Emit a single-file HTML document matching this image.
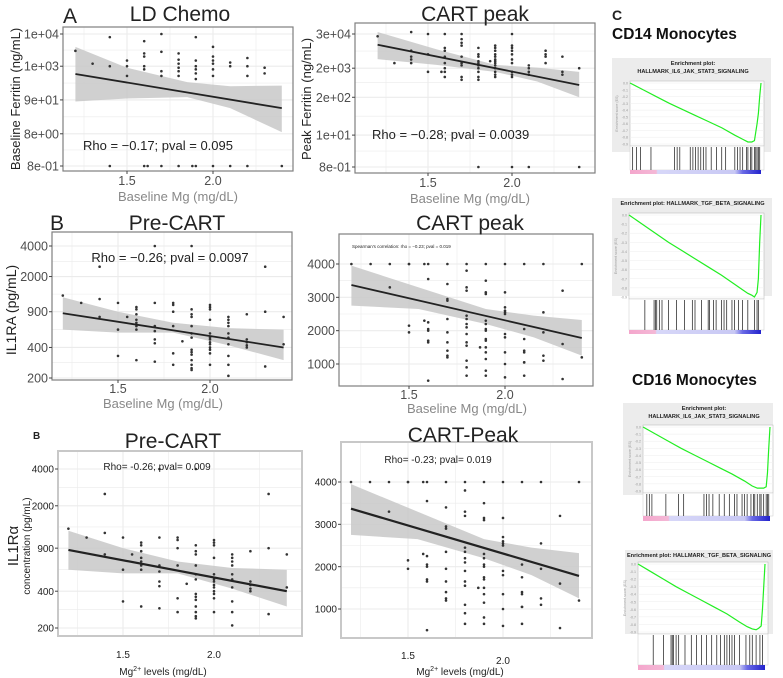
<!DOCTYPE html>
<html><head><meta charset="utf-8"><style>
html,body{margin:0;padding:0;background:#fff;}
svg{display:block;font-family:"Liberation Sans",Arial,sans-serif;}
</style></head><body>
<svg id="fig" width="783" height="678" viewBox="0 0 783 678" xmlns="http://www.w3.org/2000/svg"></svg>
<script>
// ---------- DATA ----------
const ldMg = [1.2,1.3,1.4,1.4,1.5,1.5,1.5,1.6,1.6,1.6,1.6,1.6,1.7,1.7,1.7,1.7,1.8,1.8,1.8,1.8,1.8,1.8,1.9,1.9,1.9,1.9,1.9,1.9,2.0,2.0,2.0,2.0,2.0,2.0,2.1,2.1,2.2,2.2,2.2,2.3,2.3,1.4,1.6,1.62,1.7,1.8,1.88,1.9,2.0,2.1,2.2,2.4];
const ldFerritin = [3000,1200,8000,1000,1500,1000,500,6000,2500,2000,1000,800,10000,2800,700,500,2500,1600,1200,900,700,500,8000,1500,1000,800,600,400,4000,2000,1500,1200,800,500,1300,1000,1800,1000,500,900,600,0.8,0.8,0.8,0.8,0.8,0.8,0.8,0.8,0.8,0.8,0.8];
const ldFitY = [575,50];
const ldBandX = [1.2,1.5,1.85,2.1,2.4];
const ldBandHi = [4000,900,320,240,250];
const ldBandLo = [80,100,110,50,9];

const pkMg = [1.2,1.3,1.4,1.4,1.4,1.4,1.4,1.5,1.5,1.5,1.58,1.6,1.6,1.6,1.6,1.6,1.6,1.6,1.6,1.7,1.7,1.7,1.7,1.7,1.7,1.7,1.7,1.7,1.8,1.8,1.8,1.8,1.8,1.8,1.8,1.8,1.8,1.8,1.8,1.87,1.9,1.9,1.9,1.9,1.9,1.9,1.9,1.9,1.9,1.9,1.9,1.9,1.9,2.0,2.0,2.0,2.0,2.0,2.0,2.0,2.0,2.0,2.0,2.0,2.1,2.1,2.1,2.1,2.1,2.2,2.2,2.2,2.2,2.3,2.3,2.3,2.4,2.4];
const pkFerritin = [25000,3000,35000,8000,5000,4000,3000,30000,6000,1500,1500,30000,10000,8000,5000,3000,2000,1500,1000,30000,20000,15000,12000,5000,3000,2500,1000,800,10000,6000,5000,3500,3000,2500,2000,1500,1000,800,0.8,3500,12000,10000,8000,6000,5000,4000,3500,3000,2500,2000,1500,1200,1000,30000,12000,10000,8000,6000,4000,3000,1500,1200,1000,0.8,2500,2000,1500,1200,0.8,8000,6000,5000,3000,5000,1500,1200,2000,0.8];
const pkFitY = [12800,530];
const pkBandX = [1.2,1.55,1.9,2.15,2.4];
const pkBandHi = [35000,9000,2600,2100,1500];
const pkBandLo = [4100,2600,1500,700,200];

const preMg = [1.2,1.3,1.4,1.4,1.4,1.5,1.5,1.5,1.55,1.6,1.6,1.6,1.6,1.6,1.6,1.6,1.6,1.7,1.7,1.7,1.7,1.7,1.7,1.7,1.8,1.8,1.8,1.8,1.8,1.8,1.85,1.9,1.9,1.9,1.9,1.9,1.9,1.9,1.9,1.9,1.9,1.9,1.9,1.9,1.9,2.0,2.0,2.0,2.0,2.0,2.0,2.0,2.0,2.0,2.0,2.0,2.0,2.0,2.1,2.1,2.1,2.1,2.1,2.1,2.1,2.1,2.1,2.1,2.2,2.2,2.2,2.2,2.2,2.3,2.3,2.3,2.4,2.4];
const preIL1RA = [1300,1100,2500,1200,800,1100,600,330,800,1000,950,850,750,700,650,600,300,4000,1100,650,580,480,440,290,1100,1050,900,650,350,270,460,4000,950,850,800,650,550,500,380,360,340,300,270,250,240,1050,1000,950,750,550,500,480,450,430,400,380,350,270,800,750,700,650,550,500,430,330,270,210,850,480,450,420,400,2500,900,260,800,430];
const preFitY = [870,400];
const preBandX = [1.2,1.5,1.8,2.1,2.4];
const preBandHi = [1250,900,700,620,600];
const preBandLo = [600,560,560,420,300];

const cpMg = [1.2,1.3,1.4,1.4,1.5,1.5,1.5,1.5,1.58,1.58,1.6,1.6,1.6,1.6,1.6,1.6,1.6,1.6,1.7,1.7,1.7,1.7,1.7,1.7,1.7,1.7,1.7,1.7,1.8,1.8,1.8,1.8,1.8,1.8,1.8,1.8,1.8,1.8,1.8,1.8,1.8,1.8,1.87,1.9,1.9,1.9,1.9,1.9,1.9,1.9,1.9,1.9,1.9,1.9,1.9,1.9,1.9,1.9,2.0,2.0,2.0,2.0,2.0,2.0,2.0,2.0,2.0,2.0,2.0,2.1,2.1,2.1,2.1,2.1,2.1,2.1,2.1,2.2,2.2,2.2,2.2,2.2,2.3,2.3,2.3,2.4,2.4];
const cpIL1RA = [4000,4000,4000,3300,4000,4000,2150,1950,4000,2300,4000,3550,2250,2050,2000,1700,1650,500,4000,3400,2950,2900,2350,1950,1650,1400,1250,1200,4000,3800,3300,3200,2450,2350,2200,2100,1900,1650,1550,1100,900,650,1500,4000,3500,3150,3100,2300,2200,2050,2000,1750,1700,1500,1350,1150,800,650,4000,3150,2700,2600,2550,2500,1900,1800,1350,1000,600,4000,2050,1750,1400,1350,1050,1050,650,4000,2550,1950,1250,1100,3200,1600,550,4000,1200];
const cpFitY = [3370,1780];
const cpBandX = [1.2,1.55,1.9,2.15,2.4];
const cpBandHi = [3950,3300,2650,2450,2320];
const cpBandLo = [2750,2650,2200,1800,1250];

const fitX = [1.2,2.4];
const xTickVals = [1.5,2.0];
const xTickLabels = ["1.5","2.0"];
const ferrLdTicks = [10000,1000,90,8,0.8];
const ferrLdLabels = ["1e+04","1e+03","9e+01","8e+00","8e-01"];
const ferrPkTicks = [30000,2000,200,10,0.8];
const ferrPkLabels = ["3e+04","2e+03","2e+02","1e+01","8e-01"];
const preTicks = [4000,2000,900,400,200];
const preLabels = ["4000","2000","900","400","200"];
const cpTicks = [4000,3000,2000,1000];
const cpLabels = ["4000","3000","2000","1000"];

// GSEA running enrichment score (rank fraction, ES)
const esRank = [0,0.1,0.2,0.3,0.4,0.5,0.6,0.7,0.8,0.86,0.9,0.93,0.95,0.97,0.98,0.99,1.0];
const es1 = [0,-0.1,-0.2,-0.3,-0.39,-0.48,-0.57,-0.66,-0.77,-0.83,-0.87,-0.87,-0.85,-0.6,-0.45,-0.2,0];
const es2 = [0,-0.1,-0.2,-0.3,-0.39,-0.48,-0.57,-0.66,-0.76,-0.82,-0.86,-0.88,-0.9,-0.85,-0.7,-0.3,0];
const es3 = [0,-0.1,-0.2,-0.3,-0.39,-0.48,-0.57,-0.66,-0.76,-0.83,-0.86,-0.86,-0.86,-0.84,-0.65,-0.3,0];
const es4 = [0,-0.1,-0.2,-0.3,-0.39,-0.48,-0.57,-0.66,-0.77,-0.83,-0.86,-0.87,-0.85,-0.82,-0.6,-0.3,0];
const hits1 = [0.02,0.05,0.08,0.16,0.34,0.36,0.38,0.46,0.48,0.5,0.52,0.54,0.56,0.58,0.62,0.66,0.7,0.73,0.8,0.82,0.84,0.86,0.89,0.9,0.92,0.93,0.95,0.96,0.97,0.98,0.99];
const hits2 = [0.12,0.19,0.2,0.21,0.23,0.25,0.3,0.36,0.42,0.48,0.5,0.55,0.6,0.61,0.64,0.66,0.7,0.72,0.74,0.78,0.8,0.83,0.86,0.9,0.95,0.97,0.98];
const hits3 = [0.03,0.05,0.07,0.18,0.28,0.32,0.48,0.5,0.52,0.55,0.6,0.64,0.68,0.72,0.74,0.78,0.8,0.82,0.85,0.87,0.88,0.9,0.92,0.93,0.95,0.97,0.98,0.99];
const hits4 = [0.12,0.2,0.26,0.27,0.28,0.3,0.32,0.37,0.42,0.46,0.5,0.54,0.58,0.62,0.65,0.68,0.7,0.72,0.74,0.76,0.8,0.85,0.88,0.9,0.93,0.96,0.98];

// ---------- DRAWING ----------
const NS = "http://www.w3.org/2000/svg";
const svg = document.getElementById('fig');
function el(tag, attrs, parent, txt){
  const e = document.createElementNS(NS, tag);
  for (const k in attrs) e.setAttribute(k, attrs[k]);
  if (txt !== undefined) e.textContent = txt;
  (parent || svg).appendChild(e);
  return e;
}
function linX(x1v,x1p,x2v,x2p){ return v => x1p + (v-x1v)*(x2p-x1p)/(x2v-x1v); }
function logY(vt,yt,vb,yb){ return v => yt + (Math.log(vt)-Math.log(v))/(Math.log(vt)-Math.log(vb))*(yb-yt); }

function panel(name, cfg){
  const g = el('g', {});
  
  
  const [l,t,r,b] = cfg.frame;
  const sx = cfg.sx, sy = cfg.sy;
  el('rect',{x:l,y:t,width:r-l,height:b-t,fill:'#fff'},g);
  // grid
  const gridG = el('g',{stroke:cfg.grid||'#ebebeb','stroke-width':1},g);
  
  
  [1.25,1.5,1.75,2.0,2.25].forEach(v=>{
    const x=sx(v); el('line',{x1:x,x2:x,y1:t,y2:b,'stroke-width':(v==1.5||v==2.0)?1.1:0.6},gridG);
  });
  cfg.yTicks.forEach((v,i)=>{
    const y=sy(v); el('line',{x1:l,x2:r,y1:y,y2:y,'stroke-width':1.1},gridG);
    if(i<cfg.yTicks.length-1){ const y2=(y+sy(cfg.yTicks[i+1]))/2; el('line',{x1:l,x2:r,y1:y2,y2:y2,'stroke-width':0.6},gridG); }
  });
  // band
  let d='';
  cfg.bandX.forEach((v,i)=>{ d += (i?'L':'M')+sx(v)+','+sy(cfg.bandHi[i]); });
  for(let i=cfg.bandX.length-1;i>=0;i--){ d += 'L'+sx(cfg.bandX[i])+','+sy(cfg.bandLo[i]); }
  const band = el('path',{d:d+'Z',fill:'#c8c8c8','fill-opacity':0.85},g);
  
  
  // points
  const pg = el('g',{fill:'#333'},g);
  
  
  cfg.xs.forEach((v,i)=>{
    const c = el('circle',{cx:sx(v),cy:sy(cfg.ys[i]),r:1.3},pg);
    
    
  });
  // fit
  const fl = el('line',{x1:sx(fitX[0]),y1:sy(cfg.fitY[0]),x2:sx(fitX[1]),y2:sy(cfg.fitY[1]),stroke:'#222','stroke-width':cfg.fitW||1.8},g);
  
  
  // frame
  el('rect',{x:l,y:t,width:r-l,height:b-t,fill:'none',stroke:cfg.frameColor||'#7f7f7f','stroke-width':cfg.frameW||1.2},g);
  // y ticks
  cfg.yTicks.forEach((v,i)=>{
    const y=sy(v);
    el('line',{x1:l-3,x2:l,y1:y,y2:y,stroke:'#444','stroke-width':1},g);
    const tx = el('text',{x:l-4,y:y+cfg.fs*0.36,'text-anchor':'end','font-size':cfg.fs,fill:cfg.tickColor||'#4d4d4d'},g,cfg.yLabels[i]);
    
    
  });
  xTickVals.forEach((v,i)=>{
    const x=sx(v);
    if(!cfg.noXTick) el('line',{x1:x,x2:x,y1:b,y2:b+3,stroke:'#444','stroke-width':1},g);
    const yy = cfg.xLabY[i] !== undefined ? cfg.xLabY[i] : cfg.xLabY;
    const tx = el('text',{x:x,y:yy,'text-anchor':'middle','font-size':cfg.fs,fill:cfg.tickColor||'#4d4d4d'},g,xTickLabels[i]);
    
    
  });
  return g;
}
function text(name,x,y,size,str,opts){
  const a = Object.assign({x:x,y:y,'font-size':size,fill:'#222'},opts||{});
  const t = el('text',a,svg,str);
  
  
  return t;
}

// Panel A1
panel('ld-chemo-panel',{frame:[63,27,293,171],sx:linX(1.5,127,2.0,213),sy:logY(10000,34,0.8,166),
  xs:ldMg,ys:ldFerritin,fitY:ldFitY,bandX:ldBandX,bandHi:ldBandHi,bandLo:ldBandLo,
  yTicks:ferrLdTicks,yLabels:ferrLdLabels,fs:12.5,xLabY:[185,185]});
text('panel-a-label',63,23,21,'A');
text('ld-chemo-title',180,21,21,'LD Chemo',{'text-anchor':'middle'});
text('ld-chemo-rho',83,150,13,'Rho = \u22120.17; pval = 0.095');
text('ld-chemo-x-title',178,201,13,'Baseline Mg (mg/dL)',{'text-anchor':'middle',fill:'#888'});
text('ld-chemo-y-title',20,99,13,'Baseline Ferritin (ng/mL)',{'text-anchor':'middle',transform:'rotate(-90 20 99)'});

// Panel A2
panel('cart-peak-ferritin-panel',{frame:[355,23,595,173],sx:linX(1.5,428,2.0,512),sy:logY(30000,34,0.8,167),
  xs:pkMg,ys:pkFerritin,fitY:pkFitY,bandX:pkBandX,bandHi:pkBandHi,bandLo:pkBandLo,
  yTicks:ferrPkTicks,yLabels:ferrPkLabels,fs:12.5,xLabY:[187,187]});
text('cart-peak-ferritin-title',475,21,21,'CART peak',{'text-anchor':'middle'});
text('cart-peak-ferritin-rho',372,139,13,'Rho = \u22120.28; pval = 0.0039');
text('cart-peak-ferritin-x-title',470,203,13,'Baseline Mg (mg/dL)',{'text-anchor':'middle',fill:'#888'});
text('cart-peak-ferritin-y-title',311,99,13,'Peak Ferritin (ng/mL)',{'text-anchor':'middle',transform:'rotate(-90 311 99)'});

// Panel B1
panel('pre-cart-panel',{frame:[52,232,292,380],sx:linX(1.5,118,2.0,210),sy:logY(4000,246,200,378),
  xs:preMg,ys:preIL1RA,fitY:preFitY,bandX:preBandX,bandHi:preBandHi,bandLo:preBandLo,
  yTicks:preTicks,yLabels:preLabels,fs:12.5,xLabY:[393,393]});
text('panel-b-label',50,230,21,'B');
text('pre-cart-title',177,230,21,'Pre-CART',{'text-anchor':'middle'});
text('pre-cart-rho',170,262,13,'Rho = \u22120.26; pval = 0.0097',{'text-anchor':'middle'});
text('pre-cart-x-title',163,408,13,'Baseline Mg (mg/dL)',{'text-anchor':'middle',fill:'#888'});
text('pre-cart-y-title',16,310,14,'IL1RA (pg/mL)',{'text-anchor':'middle',transform:'rotate(-90 16 310)'});

// Panel B2
panel('cart-peak-il1ra-panel',{frame:[339,234,593,386],sx:linX(1.5,409,2.0,505),sy:v=>264+(4000-v)*(100/3000),
  xs:cpMg,ys:cpIL1RA,fitY:cpFitY,bandX:cpBandX,bandHi:cpBandHi,bandLo:cpBandLo,
  yTicks:cpTicks,yLabels:cpLabels,fs:12.5,xLabY:[399,399]});
text('cart-peak-il1ra-title',470,230,21,'CART peak',{'text-anchor':'middle'});
text('cart-peak-il1ra-spearman',352,248,4.5,"Spearman's correlation: rho = \u22120.23; pval = 0.019");
text('cart-peak-il1ra-x-title',467,413,13,'Baseline Mg (mg/dL)',{'text-anchor':'middle',fill:'#888'});

// Panel B3
panel('pre-cart-panel-2',{frame:[58,451,302,636],sx:linX(1.5,123,2.0,214),sy:logY(4000,469,200,628),
  xs:preMg,ys:preIL1RA,fitY:preFitY,bandX:preBandX,bandHi:preBandHi,bandLo:preBandLo,
  yTicks:preTicks,yLabels:preLabels,fs:10,tickColor:'#222',xLabY:[658,658],frameColor:'#c8c8c8',frameW:2,noXTick:true,fitW:2.2});
text('panel-b-label-2',33,439,10,'B',{'font-weight':'bold'});
text('pre-cart-title-2',173,448,21,'Pre-CART',{'text-anchor':'middle'});
text('pre-cart-rho-2',157,470,10,'Rho= -0.26; pval= 0.009',{'text-anchor':'middle'});
text('pre-cart-x-title-2',163,675,10,'',{'text-anchor':'middle'}).innerHTML='Mg<tspan font-size="7" dy="-4">2+</tspan><tspan dy="4"> levels (mg/dL)</tspan>';
text('pre-cart-y-title-2a',18,546,15,'IL1R\u03b1',{'text-anchor':'middle',transform:'rotate(-90 18 546)'});
text('pre-cart-y-title-2b',30,546,10,'concentration (pg/mL)',{'text-anchor':'middle',transform:'rotate(-90 30 546)'});

// Panel B4
panel('cart-peak-il1ra-panel-2',{frame:[341,442,592,638],sx:linX(1.5,408,2.0,503),sy:v=>482+(4000-v)*(127/3000),
  xs:cpMg,ys:cpIL1RA,fitY:cpFitY,bandX:cpBandX,bandHi:cpBandHi,bandLo:cpBandLo,
  yTicks:cpTicks,yLabels:cpLabels,fs:10,tickColor:'#222',xLabY:[659,664],frameColor:'#c8c8c8',frameW:2,noXTick:true,fitW:2.2});
text('cart-peak-title-2',463,442,21,'CART-Peak',{'text-anchor':'middle'});
text('cart-peak-rho-2',438,463,10,'Rho= -0.23; pval= 0.019',{'text-anchor':'middle'});
text('cart-peak-x-title-2',460,675,10,'',{'text-anchor':'middle'}).innerHTML='Mg<tspan font-size="7" dy="-4">2+</tspan><tspan dy="4"> levels (mg/dL)</tspan>';

// Panel C
text('panel-c-label',612,20,14,'C',{'font-weight':'bold'});
text('cd14-title',612,39,15.5,'CD14 Monocytes',{'font-weight':'bold',fill:'#111'});
text('cd16-title',632,385,15.5,'CD16 Monocytes',{'font-weight':'bold',fill:'#111'});

function gsea(name, cfg, es, hits){
  const g = el('g',{});
  
  
  const {hx,hy,hw,hh,l,t,r,b,bb,sb,title} = cfg;
  el('rect',{x:hx,y:hy,width:hw,height:hh,fill:'#ececec'},g);
  el('rect',{x:l,y:t,width:r-l,height:b-t,fill:'#fff',stroke:'#bbb','stroke-width':0.6},g);
  title.forEach((s,i)=>{
    const tx = el('text',{x:(l+r)/2-4,y:hy+7+i*8,'text-anchor':'middle','font-size':5.6,'font-weight':'bold',fill:'#222'},g,s);
    
    
  });
  const sy = v => t+2 + (-v)/0.9*(b-t-4);
  const sxr = f => l + f*(r-l-3);
  for(let k=0;k<=9;k++){
    el('line',{x1:l,x2:r,y1:sy(-k/10),y2:sy(-k/10),stroke:'#eee','stroke-width':0.5},g);
    el('text',{x:l-2,y:sy(-k/10)+1.5,'text-anchor':'end','font-size':3.6,fill:'#999'},g,(k?'-':'')+'0.'+k);
  }
  el('text',{x:l-12,y:(t+b)/2,'text-anchor':'middle','font-size':3.6,fill:'#999',transform:`rotate(-90 ${l-12} ${(t+b)/2})`},g,'Enrichment score (ES)');
  let d='';
  esRank.forEach((f,i)=>{ d+=(i?'L':'M')+sxr(f)+','+sy(es[i]); });
  const p = el('path',{d:d,fill:'none',stroke:'#22ee22','stroke-width':1.2},g);
  
  
  el('rect',{x:l,y:b,width:r-l,height:bb-b,fill:'#fff',stroke:'#ccc','stroke-width':0.5},g);
  hits.forEach(f=>{
    const ln = el('line',{x1:sxr(f),x2:sxr(f),y1:b+1,y2:bb,stroke:'#333','stroke-width':0.8},g);
    
    
  });
  const gid = name+'-grad';
  const defs = el('defs',{},g);
  const lg = el('linearGradient',{id:gid,x1:0,x2:1,y1:0,y2:0},defs);
  [['0','#f4a6cc'],['0.2','#f4b8d6'],['0.21','#d7d7f8'],['0.8','#c8c8f4'],['0.86','#6a6ae6'],['1','#2222cc']].forEach(s=>el('stop',{offset:s[0],'stop-color':s[1]},lg));
  el('rect',{x:l,y:bb,width:r-l-3,height:sb,fill:`url(#${gid})`},g);
}
gsea('cd14-il6-enrichment',{hx:612,hy:58,hw:159,hh:94,l:630,t:81,r:764,b:146,bb:170,sb:4,title:['Enrichment plot:','HALLMARK_IL6_JAK_STAT3_SIGNALING']},es1,hits1);
gsea('cd14-tgf-enrichment',{hx:612,hy:198,hw:160,hh:98,l:629,t:213,r:764,b:299,bb:330,sb:4,title:['Enrichment plot: HALLMARK_TGF_BETA_SIGNALING']},es2,hits2);
gsea('cd16-il6-enrichment',{hx:623,hy:403,hw:150,hh:92,l:643,t:425,r:773,b:493,bb:516,sb:5,title:['Enrichment plot:','HALLMARK_IL6_JAK_STAT3_SIGNALING']},es3,hits3);
gsea('cd16-tgf-enrichment',{hx:625,hy:550,hw:148,hh:84,l:638,t:562,r:768,b:634,bb:665,sb:5,title:['Enrichment plot: HALLMARK_TGF_BETA_SIGNALING']},es4,hits4);
</script>
</body></html>
